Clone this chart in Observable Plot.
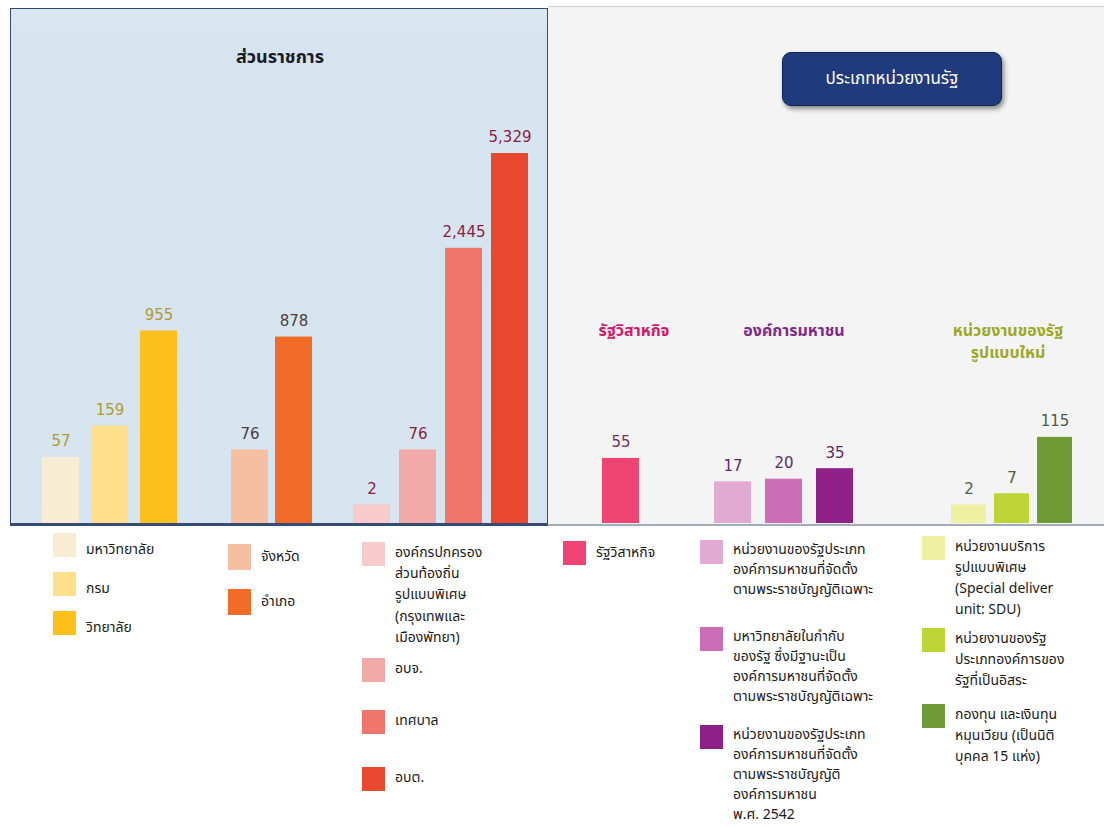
<!DOCTYPE html>
<html>
<head>
<meta charset="utf-8">
<script src="https://cdn.jsdelivr.net/npm/d3@7"></script>
<script src="https://cdn.jsdelivr.net/npm/@observablehq/plot@0.6"></script>
<style>
  body { margin: 0; background: #fff; font-family: Tahoma, "Noto Sans Thai", "Noto Sans", "DejaVu Sans", sans-serif; }
  #chart { position: relative; width: 1104px; height: 827px; overflow: hidden; background: #fff; }
  .abs { position: absolute; }
  .panel { left: 10px; top: 8px; width: 536px; height: 516px; background: linear-gradient(#dbe8f1, #d5e4ef 40px, #d6e5ef); border: 1.5px solid #2f4d7c; box-sizing: content-box; }
  .rightbg { left: 548px; top: 6px; width: 556px; height: 519px; background: #f4f4f4; border-top: 1px solid #cfcfcf; }
  .baseL { left: 10px; top: 523px; width: 538px; height: 2px; background: #3b4a72; }
  .baseR { left: 548px; top: 524px; width: 556px; height: 2px; background: #a3acbb; }
  .ptitle { font-weight: bold; font-size: 18px; color: #1b1b28; transform: translate(-50%, -50%); white-space: nowrap; }
  .btn { left: 782px; top: 52px; width: 218px; height: 52px; background: #1f3b7c; border-radius: 9px; box-shadow: 2px 3px 5px rgba(0,0,0,0.45); color: #fff; font-size: 17px; display: flex; align-items: center; justify-content: center; border: 1px solid #0f2456; }
  .gtitle { font-weight: bold; font-size: 16px; transform: translateX(-50%); text-align: center; line-height: 22px; white-space: pre; }
  .item { display: flex; align-items: flex-start; }
  .sw { width: 23px; flex: none; }
  .lt { margin-left: 10px; font-size: 14px; color: #1a1a1a; white-space: pre; }
</style>
</head>
<body>
<div id="chart"></div>
<script>
// ---------------- data ----------------
const groupKeys = ["ส่วนกลาง", "ส่วนภูมิภาค", "ส่วนท้องถิ่น", "รัฐวิสาหกิจ", "องค์การมหาชน", "หน่วยงานของรัฐรูปแบบใหม่"];
const categories = [
  "มหาวิทยาลัย", "กรม", "วิทยาลัย",
  "จังหวัด", "อำเภอ",
  "องค์กรปกครองส่วนท้องถิ่นรูปแบบพิเศษ", "อบจ.", "เทศบาล", "อบต.",
  "รัฐวิสาหกิจ",
  "องค์การมหาชน พ.ร.บ.เฉพาะ", "มหาวิทยาลัยในกำกับของรัฐ", "องค์การมหาชน พ.ร.บ. 2542",
  "หน่วยงานบริการรูปแบบพิเศษ", "องค์การของรัฐที่เป็นอิสระ", "กองทุนและเงินทุนหมุนเวียน"
];
const counts = [57, 159, 955, 76, 878, 2, 76, 2445, 5329, 55, 17, 20, 35, 2, 7, 115];
const groupOf = [0, 0, 0, 1, 1, 2, 2, 2, 2, 3, 4, 4, 4, 5, 5, 5];
const legendLabels = [
  "มหาวิทยาลัย", "กรม", "วิทยาลัย",
  "จังหวัด", "อำเภอ",
  "องค์กรปกครอง\nส่วนท้องถิ่น\nรูปแบบพิเศษ\n(กรุงเทพและ\nเมืองพัทยา)", "อบจ.", "เทศบาล", "อบต.",
  "รัฐวิสาหกิจ",
  "หน่วยงานของรัฐประเภท\nองค์การมหาชนที่จัดตั้ง\nตามพระราชบัญญัติเฉพาะ",
  "มหาวิทยาลัยในกำกับ\nของรัฐ ซึ่งมีฐานะเป็น\nองค์การมหาชนที่จัดตั้ง\nตามพระราชบัญญัติเฉพาะ",
  "หน่วยงานของรัฐประเภท\nองค์การมหาชนที่จัดตั้ง\nตามพระราชบัญญัติ\nองค์การมหาชน\nพ.ศ. 2542",
  "หน่วยงานบริการ\nรูปแบบพิเศษ\n(Special deliver\nunit: SDU)",
  "หน่วยงานของรัฐ\nประเภทองค์การของ\nรัฐที่เป็นอิสระ",
  "กองทุน และเงินทุน\nหมุนเวียน (เป็นนิติ\nบุคคล 15 แห่ง)"
];
const panelTitle = "ส่วนราชการ";
const buttonText = "ประเภทหน่วยงานรัฐ";
const sectionTitles = ["รัฐวิสาหกิจ", "องค์การมหาชน", "หน่วยงานของรัฐ\nรูปแบบใหม่"];

// ---------------- styles & layout ----------------
const barColors = ["#f8ecd2", "#fddf8c", "#fcbf1c", "#f6bfa2", "#f26b27", "#f6cbc9", "#f2aaa8", "#ee766a", "#e8482d",
                   "#ee4473", "#e2aad3", "#cc6db6", "#8f2087", "#eef1a2", "#bdd536", "#6f9b36"];
const labelColors = ["#b09b33", "#4d3e40", "#8d1c40", "#7b2b5c", "#5c2b6c", "#4c5d44"];
const groupBands = [ // [left, right, paddingInner]
  [42, 177, 0.245], [230, 312, 0.16], [353, 528, 0.2], [602, 639, 0], [714, 853, 0.275], [950, 1074, 0.18]
];
const titleLayout = [{x: 634, y: 320, c: "#d3196b"}, {x: 794, y: 320, c: "#7e2a88"}, {x: 1008, y: 320, c: "#9ea826"}];
const legendLayout = [ // x, item tops, swatch height, text offset, line height
  {x: 53, tops: [533, 572, 611], sh: 24, off: 6, lh: 21},
  {x: 228, tops: [544, 589], sh: 26, off: 2, lh: 21},
  {x: 362, tops: [542, 658, 710, 767], sh: 24, off: 0, lh: 21.2},
  {x: 563, tops: [541], sh: 24, off: 1, lh: 21},
  {x: 700, tops: [540, 627, 725], sh: 24, off: 0, lh: 20},
  {x: 922, tops: [536, 628, 704], sh: 24, off: 0, lh: 21}
];
const plotTop = 90, baseline = 523 - plotTop, tallest = 370;

// ---------------- build ----------------
const root = document.getElementById("chart");
function add(cls, style, text) {
  const d = document.createElement("div");
  d.className = "abs " + cls;
  Object.assign(d.style, style || {});
  if (text != null) d.textContent = text;
  root.appendChild(d);
  return d;
}
add("rightbg");
add("panel");
add("ptitle", {left: "280px", top: "57px"}, panelTitle);
add("btn", {}, buttonText);
sectionTitles.forEach((t, i) => add("gtitle", {left: titleLayout[i].x + "px", top: titleLayout[i].y + "px", color: titleLayout[i].c}, t));

const rows = categories.map((c, i) => ({category: c, count: counts[i], group: groupOf[i], legend: legendLabels[i]}));
const fmt = d3.format(",");

groupKeys.forEach((g, gi) => {
  const data = rows.filter(r => r.group === gi);
  const [l, r, pi] = groupBands[gi];
  const svg = Plot.plot({
    width: 1104,
    height: 440,
    margin: 0,
    style: {background: "transparent", overflow: "visible", fontFamily: "'DejaVu Sans', Verdana, sans-serif"},
    x: {domain: data.map(d => d.category), range: [l, r], paddingInner: pi, paddingOuter: 0, axis: null},
    y: {type: "pow", exponent: 0.38, domain: [0, 5329], range: [baseline, baseline - tallest], axis: null},
    color: {domain: categories, range: barColors},
    marks: [
      Plot.barY(data, {x: "category", y: "count", fill: "category"}),
      Plot.text(data, {x: "category", y: "count", text: d => fmt(d.count), dy: -16, fill: labelColors[gi], fontSize: 15})
    ]
  });
  svg.style.position = "absolute";
  svg.style.left = "0px";
  svg.style.top = plotTop + "px";
  root.appendChild(svg);

  // legend
  const lay = legendLayout[gi];
  data.forEach((d, k) => {
    const item = add("item", {left: lay.x + "px", top: lay.tops[k] + "px"});
    const sw = document.createElement("div");
    sw.className = "sw";
    sw.style.height = lay.sh + "px";
    sw.style.background = barColors[categories.indexOf(d.category)];
    const lt = document.createElement("div");
    lt.className = "lt";
    lt.style.marginTop = lay.off + "px";
    lt.style.lineHeight = lay.lh + "px";
    lt.textContent = d.legend;
    item.appendChild(sw);
    item.appendChild(lt);
  });
});
add("baseL");
add("baseR");
</script>
</body>
</html>
